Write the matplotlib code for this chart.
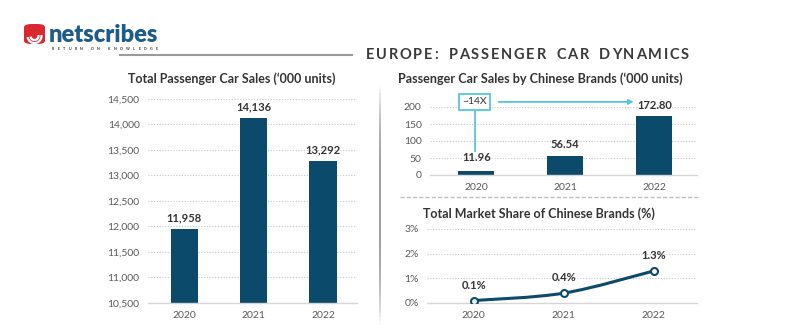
import matplotlib
matplotlib.use("Agg")
import matplotlib.pyplot as plt
from matplotlib.patches import FancyBboxPatch, Arc
from matplotlib.path import Path
from matplotlib.patches import PathPatch
from matplotlib.collections import LineCollection
import numpy as np

plt.rcParams['font.family'] = ['Lato', 'DejaVu Sans']

# ---- data ----
years = ["2020", "2021", "2022"]
total_sales = [11958, 14136, 13292]
total_ticks = [10500, 11000, 11500, 12000, 12500, 13000, 13500, 14000, 14500]
chinese_sales = [11.96, 56.54, 172.80]
chinese_ticks = [0, 50, 100, 150, 200]
share_pct = [0.1, 0.4, 1.3]
share_ticks = [0, 1, 2, 3]
growth_label = "~14X"

BAR = "#0c4a6c"
TXT = "#333333"
TICK = "#5a5a5a"
GRID = "#c8c8c8"
CYAN = "#56c5df"

W, H = 800, 336
fig = plt.figure(figsize=(W / 100, H / 100), dpi=100)
fig.patch.set_facecolor("white")
renderer = fig.canvas.get_renderer()


def px_axes(left, top, right, bottom):
    return fig.add_axes([left / W, 1 - bottom / H, (right - left) / W, (bottom - top) / H])


def style(ax, ticks, fmt):
    ax.set_facecolor("none")
    for s in ["top", "right", "left"]:
        ax.spines[s].set_visible(False)
    ax.spines["bottom"].set_color("#d6d6d6")
    ax.spines["bottom"].set_linewidth(1.0)
    ax.set_yticks(ticks)
    ax.set_yticklabels([fmt(t) for t in ticks], color=TICK, fontsize=7.5)
    ax.set_xticks(range(len(years)))
    ax.set_xticklabels(years, color=TICK, fontsize=7.5)
    ax.tick_params(length=0, pad=6)
    ax.yaxis.grid(True, color=GRID, linestyle=(0, (1, 1.5)), linewidth=0.8)
    ax.set_axisbelow(True)


def tracked_text(s, x0, x1, y, size, color, weight="bold", space=1.6):
    """Place capitals one by one so the string spans x0..x1 pixels."""
    probe = [fig.text(0, 0, ch if ch != " " else "I", fontsize=size, fontweight=weight)
             for ch in s]
    widths = [t.get_window_extent(renderer).width for t in probe]
    for t in probe:
        t.remove()
    widths = [w * space if ch == " " else w for w, ch in zip(widths, s)]
    track = (x1 - x0 - sum(widths)) / (len(s) - 1)
    cx = x0
    for ch, w in zip(s, widths):
        if ch != " ":
            fig.text(cx / W, 1 - y / H, ch, ha="left", va="center", fontsize=size,
                     fontweight=weight, color=color)
        cx += w + track


# ---- left: total passenger car sales ----
ax1 = px_axes(148, 99, 357, 303)
x = np.arange(len(years))
ax1.bar(x, total_sales, width=0.39, color=BAR)
ax1.set_ylim(10500, 14500)
ax1.set_xlim(-0.52, 2.49)
style(ax1, total_ticks, lambda t: f"{t:,}")
for xi, v in zip(x, total_sales):
    ax1.annotate(f"{v:,}", (xi, v), xytext=(0, 4), textcoords="offset points",
                 ha="center", va="bottom", fontsize=8, fontweight="bold", color=TXT)
fig.text(232 / W, 1 - 79 / H, "Total Passenger Car Sales (\u2018000 units)", ha="center",
         va="center", fontsize=9, fontweight="bold", color=TXT)

# ---- right top: sales by Chinese brands ----
ax2 = px_axes(430, 107, 697, 175)
ax2.bar(x, chinese_sales, width=0.40, color=BAR)
ax2.set_ylim(0, 200)
ax2.set_xlim(-0.52, 2.48)
style(ax2, chinese_ticks, lambda t: f"{t}")
for xi, v in zip(x, chinese_sales):
    off = 6 if xi == 0 else 4
    ax2.annotate(f"{v:.2f}", (xi, v), xytext=(0, off), textcoords="offset points",
                 ha="center", va="bottom", fontsize=8, fontweight="bold", color=TXT)
fig.text(540 / W, 1 - 79 / H, "Passenger Car Sales by Chinese Brands (\u2018000 units)",
         ha="center", va="center", fontsize=9.1, fontweight="bold", color=TXT)

# growth callout
ax2.text(-0.02, 215, growth_label, ha="center", va="center", fontsize=7.5, color=TXT,
         bbox=dict(boxstyle="square,pad=0.35", fc="white", ec=CYAN, lw=1.3), clip_on=False)
ax2.plot([-0.02, -0.02], [192, 70], color=CYAN, lw=1.3, clip_on=False)
ax2.annotate("", xy=(1.80, 215), xytext=(0.22, 215),
             arrowprops=dict(arrowstyle="-|>", color=CYAN, lw=1.3, mutation_scale=7),
             annotation_clip=False)

# ---- right bottom: market share ----
ax3 = px_axes(427, 229, 697, 303)
ax3.set_ylim(0, 3)
ax3.set_xlim(-0.52, 2.48)
style(ax3, share_ticks, lambda t: f"{t}%")
pts = np.column_stack([x, share_pct]).astype(float)
ext = np.vstack([pts[0], pts, pts[-1]])
verts, codes = [pts[0]], [Path.MOVETO]
for i in range(len(pts) - 1):
    p0, p1, p2, p3 = ext[i], ext[i + 1], ext[i + 2], ext[i + 3]
    verts += [p1 + (p2 - p0) / 6, p2 - (p3 - p1) / 6, p2]
    codes += [Path.CURVE4] * 3
ax3.add_patch(PathPatch(Path(verts, codes), fc="none", ec=BAR, lw=2.2))
ax3.plot(x, share_pct, linestyle="none", marker="o", ms=5, mfc="white", mec=BAR, mew=1.5,
         zorder=5)
for xi, v in zip(x, share_pct):
    ax3.annotate(f"{v:.1f}%", (xi, v), xytext=(0, 7), textcoords="offset points",
                 ha="center", va="bottom", fontsize=8, fontweight="bold", color=TXT)
fig.text(423 / W, 1 - 214 / H, "Total Market Share of Chinese Brands (%)", ha="left",
         va="center", fontsize=9, fontweight="bold", color=TXT)

# ---- separators ----
fig.add_artist(plt.Line2D([400 / W, 700 / W], [1 - 197 / H, 1 - 197 / H], color="#bdbdbd",
                          lw=1.0, linestyle=(0, (3, 1.5))))
ys = np.linspace(85, 325, 60)
segs = [[(380 / W, 1 - a / H), (380 / W, 1 - b / H)] for a, b in zip(ys[:-1], ys[1:])]
mid = (ys[:-1] + ys[1:]) / 2
alpha = np.clip(1 - np.abs((mid - 205) / 120) ** 3, 0, 1)
cols = [(0.55, 0.55, 0.55, a) for a in alpha]
fig.add_artist(LineCollection(segs, colors=cols, linewidths=1.2, transform=fig.transFigure))

# ---- header ----
fig.add_artist(plt.Line2D([120 / W, 352 / W], [1 - 55 / H, 1 - 55 / H], color="#9a9a9a", lw=1.5))
tracked_text("EUROPE: PASSENGER CAR DYNAMICS", 366, 689, 55, 10.5, "#3a3a3a", space=1.6)

# ---- logo ----
fig.add_artist(FancyBboxPatch((24 / W, 1 - 44 / H), 21 / W, 20 / H,
                              boxstyle="round,pad=0,rounding_size=0.01",
                              fc="#d9282f", ec="none", transform=fig.transFigure))
for r, t1, t2 in [(14, 200, 20), (8, 200, 30)]:
    fig.add_artist(Arc((34.5 / W, 1 - 36 / H), r / W, r / H, theta1=t1, theta2=t2,
                       color="white", lw=1.6, transform=fig.transFigure))
fig.text(49 / W, 1 - 41.5 / H, "netscribes", ha="left", va="baseline", fontsize=17,
         fontweight="heavy", color="#1d5b88")
tracked_text("RETURN ON KNOWLEDGE", 52, 158, 48.5, 2.6, "#333333", space=1.5)

fig.savefig("out.png", dpi=100, facecolor="white")
